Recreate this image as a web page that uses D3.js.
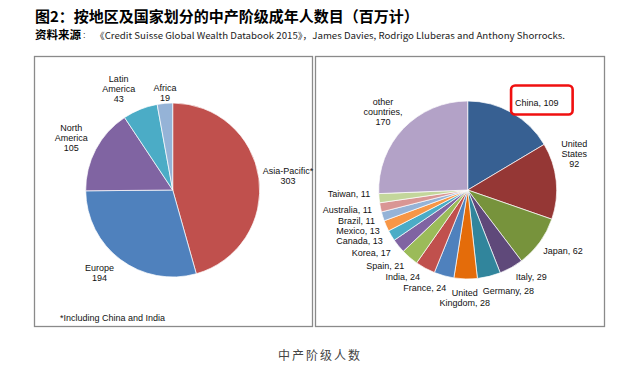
<!DOCTYPE html>
<html>
<head>
<meta charset="utf-8">
<script src="https://cdn.jsdelivr.net/npm/d3@7"></script>
<style>
  body { margin: 0; background: #fff; }
  text { font-family: 'Liberation Sans', Arial, sans-serif; }
</style>
</head>
<body>
<svg id="chart" width="641" height="372"></svg>
<script>
// left pie: middle class adults by region (millions)
var regions = ['Asia-Pacific*', 'Europe', 'North America', 'Latin America', 'Africa']
var regionValues = [303, 194, 105, 43, 19]
var regionLabels = [['Asia-Pacific*', '#'], ['Europe', '#'], ['North', 'America', '#'], ['Latin', 'America', '#'], ['Africa', '#']]
var regionColors = ['#c0504d', '#4f81bd', '#8064a2', '#4bacc6', '#95b3d7']

// right pie: by country
var countries = ['China', 'United States', 'Japan', 'Italy', 'Germany', 'United Kingdom', 'France', 'India',
  'Spain', 'Korea', 'Canada', 'Mexico', 'Brazil', 'Australia', 'Taiwan', 'other countries']
var countryValues = [109, 92, 62, 29, 28, 28, 24, 24, 21, 17, 13, 13, 11, 11, 11, 170]
var countryLabels = [['China, #'], ['United', 'States', '#'], ['Japan, #'], ['Italy, #'], ['Germany, #'],
  ['United', 'Kingdom, #'], ['France, #'], ['India, #'], ['Spain, #'], ['Korea, #'], ['Canada, #'],
  ['Mexico, #'], ['Brazil, #'], ['Australia, #'], ['Taiwan, #'], ['other', 'countries,', '#']]
var countryColors = ['#376092', '#953735', '#77933c', '#5f497a', '#31859c', '#e46c0a', '#4f81bd', '#c0504d',
  '#9bbb59', '#8064a2', '#4bacc6', '#f79646', '#95b3d7', '#d99694', '#c3d69b', '#b3a2c7']

// small label shifts (Excel "best fit" moves some labels)
var regionNudge = { 'Asia-Pacific*': [-5, 0], 'Latin America': [-12, 1.5], 'Africa': [2, 9], 'Europe': [-7, -2], 'North America': [-2, 0] }
var countryNudge = { 'China': [10, 3], 'United States': [-4, -25], 'Italy': [8, -3], 'Germany': [11, 1],
  'France': [-11, -1], 'India': [-10, -4], 'Spain': [-6, -2], 'Korea': [-5, -1.5], 'Canada': [-4, -1.5], 'Taiwan': [0, -6] }

var svg = d3.select('#chart')

// title lines
svg.append('text')
  .attr('x', 35).attr('y', 22)
  .style('font-family', "'Noto Sans CJK SC', sans-serif")
  .style('font-size', '15px').style('font-weight', 'bold')
  .text('图2：按地区及国家划分的中产阶级成年人数目（百万计）')
svg.append('text')
  .attr('x', 35).attr('y', 39)
  .style('font-family', "'Noto Sans CJK SC', sans-serif")
  .style('font-size', '11.5px').style('font-weight', 'bold')
  .text('资料来源')
svg.append('text')
  .attr('x', 83).attr('y', 38)
  .style('font-size', '9px').attr('fill', '#333')
  .text(':')
svg.append('text')
  .attr('x', 95).attr('y', 38.5)
  .attr('textLength', 470).attr('lengthAdjust', 'spacingAndGlyphs')
  .style('font-family', "'Noto Sans CJK SC', sans-serif")
  .style('font-size', '9px').attr('fill', '#222')
  .text('《Credit Suisse Global Wealth Databook 2015》，James Davies, Rodrigo Lluberas and Anthony Shorrocks.')

// panel frames
svg.append('rect').attr('x', 34.5).attr('y', 56.5).attr('width', 278).attr('height', 270)
  .attr('fill', 'none').attr('stroke', '#8a8a8a').attr('stroke-width', 1.3)
svg.append('rect').attr('x', 315.5).attr('y', 56.5).attr('width', 289).attr('height', 270)
  .attr('fill', 'none').attr('stroke', '#8a8a8a').attr('stroke-width', 1.3)

function drawPie (cx, cy, r, names, values, colors, labels, nudges) {
  var data = names.map(function (n, i) { return { name: n, value: values[i] } })
  var pie = d3.pie().sort(null).value(function (d) { return d.value })
  var arc = d3.arc().innerRadius(0).outerRadius(r)
  var arcs = pie(data)
  var g = svg.append('g').attr('transform', 'translate(' + cx + ',' + cy + ')')

  g.selectAll('path')
    .data(arcs)
    .enter()
    .append('path')
    .attr('d', arc)
    .attr('fill', function (d, i) { return colors[i] })
    .attr('stroke', '#fff')
    .attr('stroke-width', 0.7)

  var boxes = {}
  arcs.forEach(function (a, i) {
    var mid = (a.startAngle + a.endAngle) / 2
    var R = r + 9
    var px = Math.sin(mid) * R
    var py = -Math.cos(mid) * R
    var t = g.append('text')
      .attr('text-anchor', 'middle')
      .style('font-size', '9px')
      .attr('fill', '#111')
    labels[i].forEach(function (ln, j) {
      t.append('tspan').attr('x', 0).attr('dy', j ? 10 : 0)
        .text(ln.replace('#', a.data.value))
    })
    var bb = t.node().getBBox()
    var nd = nudges[a.data.name] || [0, 0]
    var lx = px + Math.sin(mid) * bb.width / 2 + nd[0]
    var ly = py - Math.cos(mid) * bb.height / 2 + nd[1]
    t.attr('transform', 'translate(' + lx + ',' + (ly - (bb.y + bb.height / 2)) + ')')
    boxes[a.data.name] = { x: cx + lx - bb.width / 2, y: cy + ly - bb.height / 2, w: bb.width, h: bb.height }
  })
  return boxes
}

drawPie(172.7, 190, 87, regions, regionValues, regionColors, regionLabels, regionNudge)
var cBoxes = drawPie(467.7, 190, 89, countries, countryValues, countryColors, countryLabels, countryNudge)

// red highlight round the China label
var cb = cBoxes['China']
svg.append('rect')
  .attr('x', cb.x - 4).attr('y', cb.y - 13)
  .attr('width', cb.w + 18).attr('height', cb.h + 19)
  .attr('rx', 4)
  .attr('fill', 'none').attr('stroke', '#f01010').attr('stroke-width', 2.6)

svg.append('text')
  .attr('x', 60).attr('y', 321)
  .style('font-size', '9px').attr('fill', '#111')
  .text('*Including China and India')

// caption
svg.append('text')
  .attr('x', 320).attr('y', 360)
  .attr('text-anchor', 'middle')
  .style('font-family', "'Noto Sans CJK SC', sans-serif")
  .style('font-size', '12px').style('letter-spacing', '2px')
  .attr('fill', '#444')
  .text('中产阶级人数')
</script>
</body>
</html>
